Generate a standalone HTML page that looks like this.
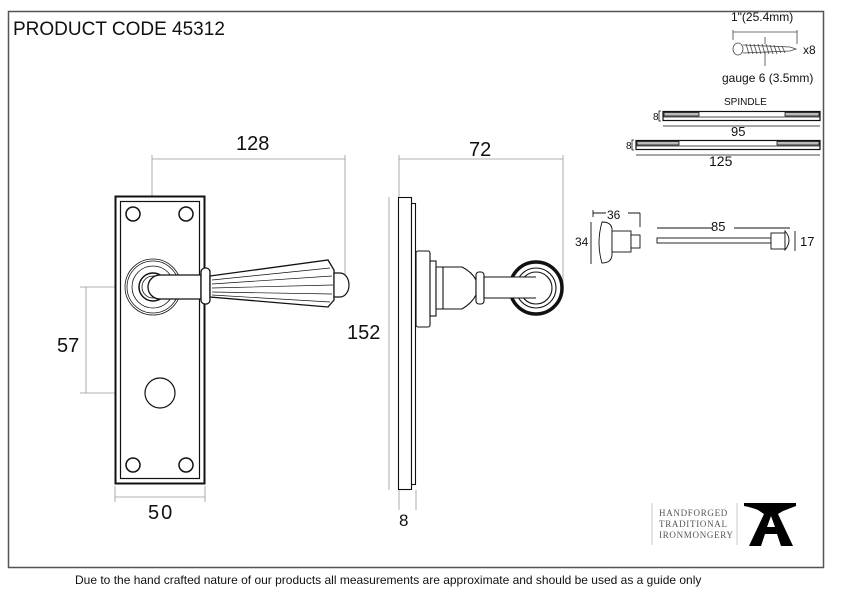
<!DOCTYPE html>
<html><head><meta charset="utf-8"><style>
html,body{margin:0;padding:0;background:#fff;width:842px;height:596px;overflow:hidden}
svg{display:block}
text{font-family:"Liberation Sans",sans-serif;fill:#111}
</style></head><body>
<svg width="842" height="596" viewBox="0 0 842 596" xmlns="http://www.w3.org/2000/svg">
<rect x="8.5" y="11.5" width="815" height="556" fill="#fff" stroke="#555" stroke-width="1.5"/>
<text x="13" y="35" font-size="19">PRODUCT CODE  45312</text>

<g stroke="#999" stroke-width="0.8" fill="none">
<line x1="152" y1="155" x2="152" y2="287"/><line x1="345" y1="155" x2="345" y2="290"/>
<line x1="152" y1="159" x2="345" y2="159"/>
<line x1="80" y1="287" x2="152" y2="287"/><line x1="80" y1="393" x2="160" y2="393"/>
<line x1="86" y1="287" x2="86" y2="393"/>
<line x1="115" y1="486" x2="115" y2="502"/><line x1="205" y1="486" x2="205" y2="502"/>
<line x1="115" y1="497" x2="205" y2="497"/>
</g>
<text x="236" y="150" font-size="20">128</text>
<text x="57" y="352" font-size="20">57</text>
<text x="148" y="519" font-size="20" letter-spacing="2">50</text>

<g stroke="#111" fill="#fff">
<rect x="115.5" y="196.5" width="89" height="287" stroke-width="2"/>
<rect x="120.5" y="201.5" width="79" height="277" stroke-width="1.2"/>
<circle cx="133" cy="214" r="7" stroke-width="1.5"/><circle cx="186" cy="214" r="7" stroke-width="1.5"/>
<circle cx="133" cy="465" r="7" stroke-width="1.5"/><circle cx="186" cy="465" r="7" stroke-width="1.5"/>
<circle cx="153" cy="287" r="28" stroke-width="0.8"/><circle cx="153" cy="287" r="26" stroke-width="0.8"/>
<circle cx="153" cy="287" r="21" stroke-width="0.8"/><circle cx="153" cy="287" r="14" stroke-width="1.5"/>
<circle cx="153" cy="287" r="11" stroke-width="0.8"/>
<circle cx="160" cy="393" r="15" stroke-width="1.2"/>
<path d="M160 275 L201 275 L201 299 L160 299 A12 12 0 0 1 160 275 Z" stroke-width="1.3"/>
<rect x="201" y="268" width="9" height="36" rx="4" stroke-width="1.3"/>
<path d="M210 276 L328 260 L334 270 L334 300 L328 307 L210 297 Z" stroke-width="1.3"/>
<path d="M212 280 L330 268 M212 284 L332 276 M212 288 L333 285 M212 292 L332 294 M212 295 L330 302" stroke-width="0.7" fill="none"/>
<path d="M334 273 L340 273 A9 12 0 0 1 340 297 L334 297 Z" stroke-width="1.2"/>
</g>

<g stroke="#999" stroke-width="0.8" fill="none">
<line x1="399" y1="155" x2="399" y2="197"/><line x1="563" y1="155" x2="563" y2="288"/>
<line x1="399" y1="159" x2="563" y2="159"/>
<line x1="389" y1="197" x2="389" y2="490"/>
<line x1="399" y1="490" x2="399" y2="510"/><line x1="416" y1="490" x2="416" y2="510"/>
</g>
<text x="469" y="156" font-size="20">72</text>
<text x="347" y="339" font-size="20">152</text>
<text x="399" y="526" font-size="17">8</text>

<g stroke="#111" fill="#fff" stroke-width="1.1">
<rect x="398.5" y="197.5" width="13" height="292"/>
<rect x="411.5" y="203.5" width="4" height="281"/>
<rect x="416" y="251" width="14" height="76" rx="2"/>
<rect x="430" y="261" width="6" height="55"/>
<path d="M436 267 L462 267 Q472 272 476 280 L476 295 Q472 303 462 309 L436 309 Z"/>
<line x1="443" y1="267" x2="443" y2="309"/>
<rect x="476" y="272" width="8" height="32" rx="3"/>
<path d="M484 277 L528 277 L528 298 L484 298 Z"/>
<circle cx="536" cy="288" r="26" stroke-width="3.5"/>
<circle cx="536" cy="288" r="20"/>
<circle cx="536" cy="288" r="16"/>
<rect x="505" y="277" width="30" height="21" stroke="none"/>
<line x1="505" y1="277" x2="536" y2="277"/><line x1="505" y1="298" x2="536" y2="298"/>
</g>

<text x="731" y="21" font-size="12">1"(25.4mm)</text>
<g stroke="#444" stroke-width="0.8" fill="none">
<line x1="733" y1="30" x2="733" y2="40"/><line x1="797" y1="30" x2="797" y2="44"/>
<line x1="733" y1="32" x2="797" y2="32"/>
<line x1="765" y1="37" x2="765" y2="44"/><line x1="765" y1="52" x2="765" y2="66"/>
<ellipse cx="738" cy="49" rx="5" ry="6" fill="#fff"/>
<path d="M743 45 L790 47 L796 49 L790 51 L743 53"/>
<path d="M746 44 l3 10 M750 44 l3 10 M754 44 l3 10 M758 44 l3 10 M762 44 l3 10 M766 44 l3 10 M770 45 l3 9 M774 45 l3 9 M778 46 l3 7 M782 46 l3 7"/>
</g>
<text x="803" y="54" font-size="12">x8</text>
<text x="722" y="82" font-size="12">gauge 6 (3.5mm)</text>

<text x="724" y="105" font-size="10">SPINDLE</text>
<g stroke="#111" stroke-width="1.2">
<rect x="663" y="111.5" width="157" height="9" fill="#fff"/>
<rect x="664" y="112.5" width="35" height="3.5" fill="#bbb" stroke-width="0.8"/>
<rect x="785" y="112.5" width="34" height="3.5" fill="#bbb" stroke-width="0.8"/>
<line x1="663" y1="117" x2="820" y2="117" stroke-width="0.8"/>
<rect x="636" y="140.5" width="184" height="9" fill="#fff"/>
<rect x="637" y="141.5" width="42" height="3.5" fill="#bbb" stroke-width="0.8"/>
<rect x="777" y="141.5" width="42" height="3.5" fill="#bbb" stroke-width="0.8"/>
<line x1="636" y1="146" x2="820" y2="146" stroke-width="0.8"/>
</g>
<g stroke="#111" stroke-width="0.8">
<line x1="663" y1="126" x2="820" y2="126"/><line x1="636" y1="155" x2="820" y2="155"/>
<path d="M661 111 h-2 v10 h2 M634 140 h-2 v10 h2" fill="none"/>
</g>
<text x="653" y="120" font-size="10">8</text>
<text x="731" y="136" font-size="13">95</text>
<text x="626" y="149" font-size="10">8</text>
<text x="709" y="166" font-size="14">125</text>

<g stroke="#111" stroke-width="0.9" fill="#fff">
<path d="M602 222 Q612 222 612 230 L612 254 Q612 263 602 263 Q596 243 602 222 Z"/>
<rect x="612" y="231" width="19" height="21"/>
<rect x="631" y="235" width="9" height="13"/>
<line x1="593" y1="213" x2="640" y2="213" fill="none"/>
<line x1="593" y1="210" x2="593" y2="217" fill="none"/>
<line x1="640" y1="213" x2="640" y2="227" fill="none"/>
<line x1="591" y1="222" x2="591" y2="264" fill="none"/>
</g>
<rect x="606" y="206" width="22" height="14" fill="#fff"/>
<text x="607" y="219" font-size="12">36</text>
<text x="575" y="246" font-size="12">34</text>

<g stroke="#111" stroke-width="0.9" fill="#fff">
<rect x="657" y="238" width="114" height="5"/>
<rect x="771" y="233" width="14" height="16"/>
<path d="M785 231 Q793 240 785 250 Z"/>
<line x1="657" y1="228" x2="790" y2="228"/>
<line x1="795" y1="231" x2="795" y2="251"/>
</g>
<rect x="712" y="220" width="22" height="12" fill="#fff"/>
<text x="711" y="231" font-size="13">85</text>
<text x="800" y="246" font-size="13">17</text>

<g stroke="#bbb" stroke-width="0.8"><line x1="652" y1="503" x2="652" y2="545"/><line x1="737" y1="503" x2="737" y2="545"/></g>
<g font-size="9" letter-spacing="0.7">
<text x="659" y="516" style="font-family:'Liberation Serif',serif;fill:#555">HANDFORGED</text>
<text x="659" y="527" style="font-family:'Liberation Serif',serif;fill:#555">TRADITIONAL</text>
<text x="659" y="538" style="font-family:'Liberation Serif',serif;fill:#555">IRONMONGERY</text>
</g>
<path d="M744 503 L796 503 L796 506 L783 511 L778 514 L793 546 L781 546 L777 534 L765 534 L761 546 L749 546 L764 514 L758 510 Q750 507 744 506 Z M767 527 L775 527 L771 516 Z" fill="#000" fill-rule="evenodd"/>

<text x="75" y="584" font-size="12">Due to the hand crafted nature of our products all measurements are approximate and should be used as a guide only</text>
</svg>
</body></html>
